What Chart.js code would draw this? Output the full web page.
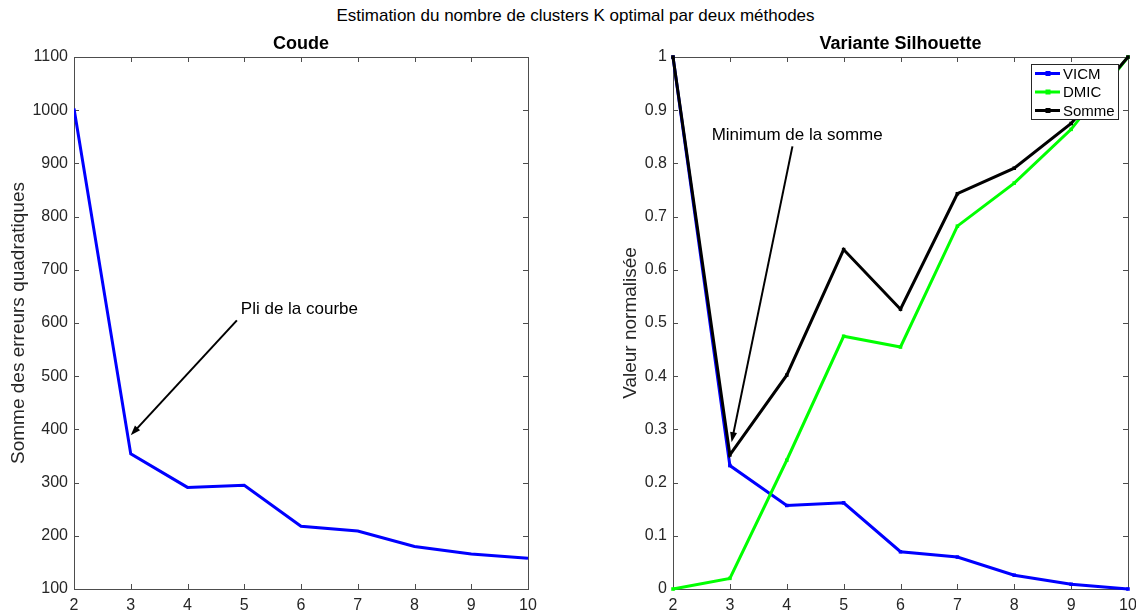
<!DOCTYPE html>
<html>
<head>
<meta charset="utf-8">
<script src="https://cdn.jsdelivr.net/npm/chart.js@4"></script>
<style>
  body { margin: 0; background: #fff; width: 1137px; height: 614px; overflow: hidden; font-family: "Liberation Sans", Arial, sans-serif; }
  #suptitle { position: absolute; top: 6px; left: 0; width: 1151px; text-align: center; font-size: 17px; color: #000; white-space: nowrap; }
  .box { position: absolute; top: 0; width: 568px; height: 614px; }
</style>
</head>
<body>
<div id="suptitle">Estimation du nombre de clusters K optimal par deux méthodes</div>
<div class="box" style="left:0"><canvas id="coude" width="568" height="614"></canvas></div>
<div class="box" style="left:568px"><canvas id="silhouette" width="568" height="614"></canvas></div>
<script>
// Data
const kValues = [2, 3, 4, 5, 6, 7, 8, 9, 10];
const sse = [1003, 354, 291, 295, 218, 209, 180, 166, 158];
const vicm = [1, 0.232, 0.157, 0.162, 0.070, 0.060, 0.026, 0.009, 0];
const dmic = [0, 0.020, 0.242, 0.475, 0.455, 0.682, 0.763, 0.864, 1];
const somme = [1, 0.252, 0.402, 0.638, 0.526, 0.743, 0.791, 0.875, 1];

const xTicks = [2, 3, 4, 5, 6, 7, 8, 9, 10];
const yTicksCoude = [100, 200, 300, 400, 500, 600, 700, 800, 900, 1000, 1100];
const yTicksSil = [0, 0.1, 0.2, 0.3, 0.4, 0.5, 0.6, 0.7, 0.8, 0.9, 1];

const FONT = "'Liberation Sans', Arial, sans-serif";
const axisColor = '#262626';

function pts(ys) {
    return kValues.map((k, i) => ({ x: k, y: ys[i] }));
}

// box, inward ticks, subplot title, annotations, legend
const matlabStyle = {
    id: 'matlabStyle',
    beforeDatasetsDraw(chart, args, opts) {
        const ctx = chart.ctx, a = chart.chartArea;
        const xs = chart.scales.x, ys = chart.scales.y;
        ctx.save();
        ctx.strokeStyle = '#4d4d4d';
        ctx.lineWidth = 1;
        ctx.strokeRect(Math.round(a.left) + 0.5, Math.round(a.top) + 0.5, Math.round(a.width), Math.round(a.height));
        ctx.beginPath();
        xs.ticks.forEach(t => {
            const px = Math.round(xs.getPixelForValue(t.value)) + 0.5;
            ctx.moveTo(px, a.bottom); ctx.lineTo(px, a.bottom - 5);
            ctx.moveTo(px, a.top); ctx.lineTo(px, a.top + 5);
        });
        ys.ticks.forEach(t => {
            const py = Math.round(ys.getPixelForValue(t.value)) + 0.5;
            ctx.moveTo(a.left, py); ctx.lineTo(a.left + 5, py);
            ctx.moveTo(a.right, py); ctx.lineTo(a.right - 5, py);
        });
        ctx.stroke();
        ctx.restore();
    },
    afterDraw(chart, args, opts) {
        const ctx = chart.ctx, a = chart.chartArea;
        const xs = chart.scales.x, ys = chart.scales.y;
        ctx.save();
        // subplot title
        ctx.fillStyle = '#000';
        ctx.font = 'bold 18px ' + FONT;
        ctx.textAlign = 'center';
        ctx.textBaseline = 'alphabetic';
        ctx.fillText(opts.title, (a.left + a.right) / 2, a.top - 8);

        // annotations
        (opts.notes || []).forEach(n => {
            const x0 = xs.getPixelForValue(n.from[0]), y0 = ys.getPixelForValue(n.from[1]);
            const x1 = xs.getPixelForValue(n.to[0]), y1 = ys.getPixelForValue(n.to[1]);
            const ang = Math.atan2(y1 - y0, x1 - x0);
            const hl = 10, hw = 3.5;
            ctx.strokeStyle = '#000';
            ctx.lineWidth = 2;
            ctx.beginPath();
            ctx.moveTo(x0, y0);
            ctx.lineTo(x1 - Math.cos(ang) * hl * 0.8, y1 - Math.sin(ang) * hl * 0.8);
            ctx.stroke();
            ctx.fillStyle = '#000';
            ctx.beginPath();
            ctx.moveTo(x1, y1);
            ctx.lineTo(x1 - Math.cos(ang) * hl - Math.sin(ang) * hw, y1 - Math.sin(ang) * hl + Math.cos(ang) * hw);
            ctx.lineTo(x1 - Math.cos(ang) * hl + Math.sin(ang) * hw, y1 - Math.sin(ang) * hl - Math.cos(ang) * hw);
            ctx.closePath();
            ctx.fill();
            ctx.font = '17px ' + FONT;
            ctx.textAlign = 'left';
            ctx.textBaseline = 'middle';
            ctx.fillText(n.text, xs.getPixelForValue(n.textAt[0]), ys.getPixelForValue(n.textAt[1]));
        });

        // legend
        if (opts.legend) {
            const w = 87, h = 55;
            const lx = Math.round(a.right - 10 - w), ly = Math.round(a.top + 7);
            ctx.fillStyle = '#fff';
            ctx.fillRect(lx, ly, w, h);
            ctx.strokeStyle = '#262626';
            ctx.lineWidth = 1;
            ctx.strokeRect(lx + 0.5, ly + 0.5, w, h);
            ctx.font = '15px ' + FONT;
            ctx.textAlign = 'left';
            ctx.textBaseline = 'middle';
            chart.data.datasets.forEach((ds, i) => {
                const cy = ly + 9.5 + i * 18.5;
                ctx.strokeStyle = ds.borderColor;
                ctx.lineWidth = 3;
                ctx.beginPath();
                ctx.moveTo(lx + 4, cy); ctx.lineTo(lx + 29, cy);
                ctx.stroke();
                ctx.fillStyle = ds.borderColor;
                ctx.fillRect(lx + 14.5, cy - 2.5, 5, 5);
                ctx.fillStyle = '#000';
                ctx.fillText(ds.label, lx + 32, cy + 1);
            });
        }
        ctx.restore();
    }
};

function fixedTicks(arr) {
    return scale => { scale.ticks = arr.map(v => ({ value: v })); };
}

function makeScales(yMin, yMax, yTicks, yTitle, yWidth, titlePad) {
    return {
        x: {
            type: 'linear', min: 2, max: 10,
            afterBuildTicks: fixedTicks(xTicks),
            afterFit: s => { s.height = 25; s.paddingLeft = 0; s.paddingRight = 0; },
            grid: { display: false, drawTicks: false },
            border: { display: false },
            ticks: { color: axisColor, font: { family: FONT, size: 16 }, padding: 7, maxRotation: 0, callback: v => String(v) }
        },
        y: {
            type: 'linear', min: yMin, max: yMax,
            afterBuildTicks: fixedTicks(yTicks),
            afterFit: s => { s.width = yWidth; s.paddingTop = 0; s.paddingBottom = 0; },
            grid: { display: false, drawTicks: false },
            border: { display: false },
            ticks: { color: axisColor, font: { family: FONT, size: 16 }, padding: 6, callback: v => String(v) },
            title: { display: true, text: yTitle, color: axisColor, font: { family: FONT, size: 19 }, padding: { top: titlePad, bottom: 0 } }
        }
    };
}

Chart.defaults.font.family = FONT;
Chart.defaults.animation = false;

new Chart(document.getElementById('coude'), {
    type: 'line',
    data: {
        datasets: [{
            label: 'SSE',
            data: pts(sse),
            borderColor: '#0000ff',
            borderWidth: 3,
            pointRadius: 0,
            tension: 0
        }]
    },
    options: {
        responsive: false,
        layout: { padding: { left: 0, right: 40, top: 57, bottom: 0 } },
        scales: makeScales(100, 1100, yTicksCoude, 'Somme des erreurs quadratiques', 74, 7),
        plugins: {
            legend: { display: false },
            tooltip: { enabled: false },
            matlabStyle: {
                title: 'Coude',
                notes: [{ text: 'Pli de la courbe', from: [4.87, 605], to: [3.0, 389], textAt: [4.94, 626] }]
            }
        }
    },
    plugins: [matlabStyle]
});

new Chart(document.getElementById('silhouette'), {
    type: 'line',
    data: {
        datasets: [
            { label: 'VICM', data: pts(vicm), borderColor: '#0000ff', backgroundColor: '#0000ff', order: 2 },
            { label: 'DMIC', data: pts(dmic), borderColor: '#00ff00', backgroundColor: '#00ff00', order: 1 },
            { label: 'Somme', data: pts(somme), borderColor: '#000000', backgroundColor: '#000000', order: 0 }
        ].map(d => Object.assign(d, { borderWidth: 3, pointStyle: 'rect', pointRadius: 2.5, pointBorderWidth: 0, tension: 0, clip: 5 }))
    },
    options: {
        responsive: false,
        layout: { padding: { left: 44, right: 8, top: 57, bottom: 0 } },
        scales: makeScales(0, 1, yTicksSil, 'Valeur normalisée', 61, 7),
        plugins: {
            legend: { display: false },
            tooltip: { enabled: false },
            matlabStyle: {
                title: 'Variante Silhouette',
                legend: true,
                notes: [{ text: 'Minimum de la somme', from: [4.10, 0.832], to: [3.03, 0.276], textAt: [2.68, 0.853] }]
            }
        }
    },
    plugins: [matlabStyle]
});
</script>
</body>
</html>
